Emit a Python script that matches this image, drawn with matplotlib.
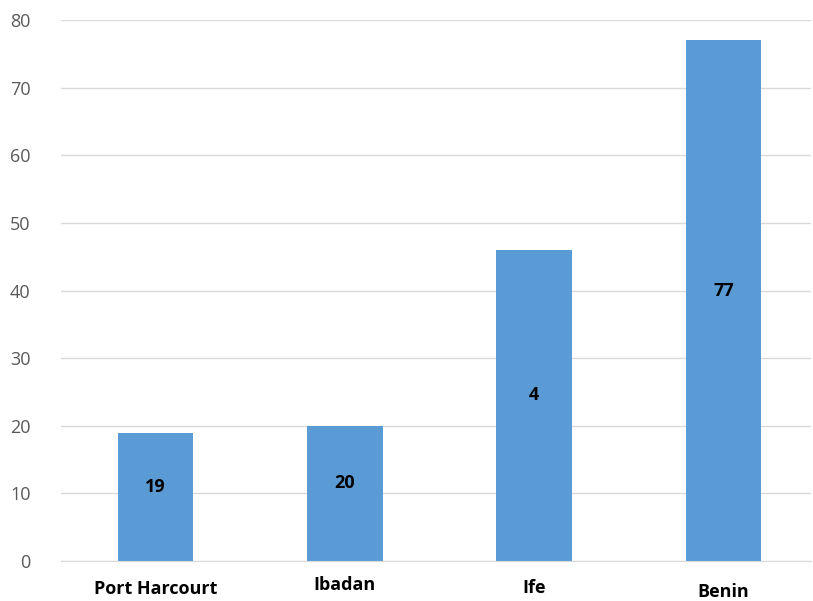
import matplotlib.pyplot as plt
import numpy as np

cities = ['Port Harcourt', 'Ibadan', 'Ife', 'Benin']
values = [19, 20, 46, 77]
bar_labels = ['19', '20', '4', '77']
yticks = [0, 10, 20, 30, 40, 50, 60, 70, 80]

plt.rcParams['font.family'] = ['Open Sans', 'DejaVu Sans']

fig = plt.figure(figsize=(8.13, 6.01), dpi=100)
ax = fig.add_axes([0.075, 0.0666, 0.922, 0.9])

x = np.arange(len(cities))
bars = ax.bar(x, values, width=0.4, color='#5B9BD5', zorder=2)

for b, lab in zip(bars, bar_labels):
    h = b.get_height()
    ax.text(b.get_x() + b.get_width() / 2, h / 2 + 1.5, lab, ha='center', va='center',
            fontsize=13, fontweight='bold', color='black')

ax.set_xlim(-0.5, 3.46)
ax.set_ylim(0, 80)
ax.set_yticks(yticks)
ax.yaxis.grid(True, color='#D9D9D9', linewidth=1)
ax.set_axisbelow(True)
for s in ['top', 'right', 'left']:
    ax.spines[s].set_visible(False)
ax.spines['bottom'].set_color('#D9D9D9')
ax.tick_params(axis='y', length=0, pad=22, labelsize=13, labelcolor='#595959')
ax.tick_params(axis='x', length=0)
ax.set_xticks(x)
ax.set_xticklabels([])

# category labels sit at slightly different heights in the original
label_y = [-4.1, -3.5, -4.0, -4.6]
for xi, name, ly in zip(x, cities, label_y):
    ax.text(xi, ly, name, ha='center', va='center',
            fontsize=13, fontweight='bold', color='black', clip_on=False)

fig.savefig('out.png', dpi=100)
